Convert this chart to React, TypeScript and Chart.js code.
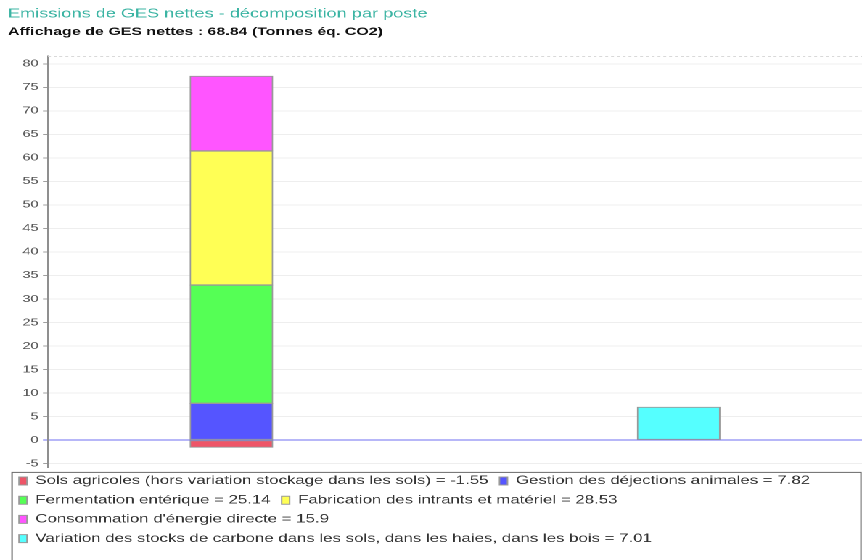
import React, { useEffect, useRef } from 'react';
import { Chart, registerables } from 'chart.js';

Chart.register(...registerables);

// ---- data ----
const titleText = 'Emissions de GES nettes - décomposition par poste';
const subtitleText = 'Affichage de GES nettes : 68.84 (Tonnes éq. CO2)';

const categoryPositions = [0, 1]; // 0: postes d'émission, 1: stockage carbone

const seriesNames = [
  'Sols agricoles (hors variation stockage dans les sols)',
  'Gestion des déjections animales',
  'Fermentation entérique',
  'Fabrication des intrants et matériel',
  "Consommation d'énergie directe",
  'Variation des stocks de carbone dans les sols, dans les haies, dans les bois',
];
const seriesValues = [-1.55, 7.82, 25.14, 28.53, 15.9, 7.01];
const seriesCategory = [0, 0, 0, 0, 0, 1];
const seriesColors = ['#ee5568', '#5555ff', '#55ff55', '#ffff55', '#ff55ff', '#55ffff'];

const yTickValues = [-5, 0, 5, 10, 15, 20, 25, 30, 35, 40, 45, 50, 55, 60, 65, 70, 75, 80];
const yMin = -5.85;
const yMax = 81.67;
const xMin = -0.41;
const xMax = 1.41;

// ---- layout (internal canvas is drawn narrow and stretched horizontally, like the reference) ----
const OUT_W = 862;
const IN_W = 594;
const H = 560;
const FONT = "'Liberation Sans', Arial, Helvetica, sans-serif";

const framePlugin = {
  id: 'frame',
  beforeDatasetsDraw(chart: any) {
    const { ctx, chartArea } = chart;
    ctx.save();
    ctx.strokeStyle = '#d9d9d9';
    ctx.lineWidth = 1;
    ctx.setLineDash([2, 2]);
    ctx.beginPath();
    ctx.moveTo(chartArea.left, chartArea.top + 0.5);
    ctx.lineTo(chartArea.right, chartArea.top + 0.5);
    ctx.stroke();
    ctx.restore();
  },
  afterDraw(chart: any) {
    const { ctx } = chart;
    const lg = chart.legend;
    if (!lg) return;
    ctx.save();
    ctx.strokeStyle = '#6a6a6a';
    ctx.lineWidth = 1;
    const left = lg.left + 2.8;
    const right = lg.right - 0.7;
    ctx.strokeRect(left, lg.top + 4.8, right - left, lg.height + 20);
    ctx.restore();
  },
};

export default function App() {
  const ref = useRef<HTMLCanvasElement>(null);

  useEffect(() => {
    document.body.style.margin = '0';
    document.body.style.overflow = 'hidden';
    const datasets = seriesNames.map((name, i) => ({
      label: `${name} = ${seriesValues[i]}`,
      data: [{ x: categoryPositions[seriesCategory[i]], y: seriesValues[i] }],
      backgroundColor: seriesColors[i],
      borderColor: '#999999',
      borderWidth: 1,
      borderSkipped: false,
      barThickness: 57,
    }));

    const chart = new Chart(ref.current as HTMLCanvasElement, {
      type: 'bar',
      data: { datasets } as any,
      plugins: [framePlugin],
      options: {
        animation: false,
        responsive: false,
        devicePixelRatio: 2,
        layout: { padding: { top: 0, left: 5.5, right: 0, bottom: 5.6 } },
        plugins: {
          title: {
            display: true,
            text: titleText,
            align: 'start',
            color: '#3bb4a3',
            font: { family: FONT, size: 12.5, weight: 'normal' },
            padding: { top: 6.5, bottom: 2 },
          },
          subtitle: {
            display: true,
            text: subtitleText,
            align: 'start',
            color: '#111111',
            font: { family: FONT, size: 11, weight: 'bold' },
            padding: { top: 1.9, bottom: 17.4 },
          },
          legend: {
            display: true,
            position: 'bottom',
            align: 'start',
            labels: {
              boxWidth: 5.5,
              boxHeight: 8,
              padding: 7.6,
              color: '#333333',
              font: { family: FONT, size: 11.6 },
            },
          },
          tooltip: { enabled: false },
        },
        scales: {
          x: {
            type: 'linear',
            display: false,
            stacked: true,
            offset: false,
            min: xMin,
            max: xMax,
          },
          y: {
            type: 'linear',
            stacked: true,
            min: yMin,
            max: yMax,
            bounds: 'data',
            afterBuildTicks: (axis: any) => {
              axis.ticks = yTickValues.map((v) => ({ value: v }));
            },
            afterFit: (axis: any) => {
              axis.width = 27.6;
            },
            ticks: {
              autoSkip: false,
              color: '#5a5a5a',
              padding: 3,
              font: { family: FONT, size: 10 },
            },
            grid: {
              color: (c: any) => (c.tick && c.tick.value === 0 ? '#6e6ef0' : '#eeeeee'),
              tickColor: (c: any) => (c.tick && c.tick.value === 0 ? '#6e6ef0' : '#a0a0a0'),
              tickLength: 3.5,
              lineWidth: 1,
            },
            border: { display: true, color: '#8f8f8f', width: 1 },
          },
        },
      } as any,
    });
    return () => chart.destroy();
  }, []);

  return (
    <div
      style={{
        width: IN_W,
        height: H,
        transform: `scaleX(${OUT_W / IN_W})`,
        transformOrigin: '0 0',
        background: '#ffffff',
      }}
    >
      <canvas ref={ref} width={IN_W} height={H} style={{ display: 'block' }} />
    </div>
  );
}
